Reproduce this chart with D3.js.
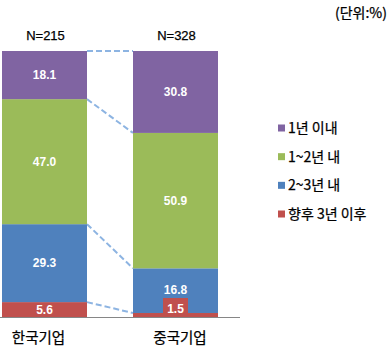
<!DOCTYPE html>
<html>
<head>
<meta charset="utf-8">
<script src="https://cdn.jsdelivr.net/npm/d3@7"></script>
<style>
  body { margin: 0; background: #fff; }
  svg { display: block; }
</style>
</head>
<body>
<div id="chart"></div>
<script>
// data
var companies = ["한국기업", "중국기업"];
var sampleSizes = ["N=215", "N=328"];
var periods = ["향후 3년 이후", "2~3년 내", "1~2년 내", "1년 이내"]; // bottom to top
var korea = [5.6, 29.3, 47.0, 18.1];
var china = [1.5, 16.8, 50.9, 30.8];
var colors = ["#C0504D", "#4F81BD", "#9BBB59", "#8064A2"];
var unitLabel = "(단위:%)";

var screen = {width: 389, height: 352};
var plot = {left: 2, right: 218, top: 51, bottom: 317, axisEnd: 240};

var svg = d3.select("#chart")
    .append("svg")
    .attr("width", screen.width)
    .attr("height", screen.height);

var xScale = d3.scaleBand()
    .domain(companies)
    .range([plot.left, plot.right])
    .paddingInner(46 / 131)
    .paddingOuter(0);

var yScale = d3.scaleLinear()
    .domain([0, 100])
    .range([plot.bottom, plot.top]);

// label positions for the category names
var labelScale = d3.scalePoint()
    .domain(companies)
    .range([38.5, 180]);

// stack the values
var series = [korea, china];
var stacked = series.map(function(vals, i) {
    var cum = 0;
    return vals.map(function(v, j) {
        var seg = {company: companies[i], period: periods[j], value: v, y0: cum, y1: cum + v, idx: j};
        cum += v;
        return seg;
    });
});

//connector lines between bars
var boundaries = d3.range(periods.length).map(function(j) {
    return {a: stacked[0][j].y1, b: stacked[1][j].y1};
});
svg.selectAll("line.conn")
    .data(boundaries)
    .enter()
    .append("line")
    .attr("class", "conn")
    .attr("x1", xScale(companies[0]) + xScale.bandwidth())
    .attr("x2", xScale(companies[1]))
    .attr("y1", function(d) { return yScale(d.a); })
    .attr("y2", function(d) { return yScale(d.b); })
    .attr("stroke", "#8DB4E2")
    .attr("stroke-width", 2)
    .attr("stroke-dasharray", "6,3");

// bars
var groups = svg.selectAll("g.bar")
    .data(stacked)
    .enter()
    .append("g")
    .attr("class", "bar");

groups.selectAll("rect")
    .data(function(d) { return d; })
    .enter()
    .append("rect")
    .attr("x", function(d) { return xScale(d.company); })
    .attr("width", xScale.bandwidth())
    .attr("y", function(d) { return yScale(d.y1); })
    .attr("height", function(d) { return yScale(d.y0) - yScale(d.y1); })
    .attr("fill", function(d) { return colors[d.idx]; });

// axis line
svg.append("line")
    .attr("x1", 0)
    .attr("x2", plot.axisEnd)
    .attr("y1", yScale(0) + 0.5)
    .attr("y2", yScale(0) + 0.5)
    .attr("stroke", "#868686")
    .attr("stroke-width", 1);

// value labels
var allSegs = stacked[0].concat(stacked[1]);
allSegs.forEach(function(d) {
    var cx = xScale(d.company) + xScale.bandwidth() / 2;
    var cy = (yScale(d.y0) + yScale(d.y1)) / 2;
    var small = (yScale(d.y0) - yScale(d.y1)) < 10;
    if (small) cy = yScale(d.y0) - 8;
    if (d.company == companies[1] && d.idx == 1) cy = yScale(d.y0) - 23;
    if (small) {
        svg.append("rect")
            .attr("x", cx - 12.5)
            .attr("y", cy - 11)
            .attr("width", 25)
            .attr("height", 19)
            .attr("fill", colors[d.idx]);
    }
    svg.append("text")
        .attr("x", cx)
        .attr("y", cy)
        .attr("dy", "0.36em")
        .attr("text-anchor", "middle")
        .attr("font-family", "Liberation Sans, Arial, sans-serif")
        .attr("font-weight", "bold")
        .attr("font-size", 12)
        .attr("fill", "#fff")
        .text(d3.format(".1f")(d.value));
});

// N labels
svg.selectAll("text.n")
    .data(companies)
    .enter()
    .append("text")
    .attr("class", "n")
    .attr("x", function(d) { return xScale(d) + xScale.bandwidth() / 2 + 1; })
    .attr("y", 35)
    .attr("dy", "0.36em")
    .attr("text-anchor", "middle")
    .attr("font-family", "Liberation Sans, Arial, sans-serif")
    .attr("font-size", 13)
    .attr("stroke", "#000")
    .attr("stroke-width", 0.25)
    .attr("fill", "#000")
    .text(function(d, i) { return sampleSizes[i]; });

// category labels
svg.selectAll("text.cat")
    .data(companies)
    .enter()
    .append("text")
    .attr("class", "cat")
    .attr("x", function(d) { return labelScale(d); })
    .attr("y", 338)
    .attr("dy", "0.36em")
    .attr("text-anchor", "middle")
    .attr("font-family", "Noto Sans CJK KR, sans-serif")
    .attr("font-size", 14.5)
    .attr("stroke", "#000")
    .attr("stroke-width", 0.25)
    .attr("fill", "#000")
    .text(function(d) { return d; });

// unit
svg.append("text")
    .attr("x", 387)
    .attr("y", 13)
    .attr("dy", "0.36em")
    .attr("text-anchor", "end")
    .attr("font-family", "Noto Sans CJK KR, sans-serif")
    .attr("font-size", 14)
    .attr("stroke", "#000")
    .attr("stroke-width", 0.25)
    .attr("fill", "#000")
    .text(unitLabel);

// legend (top to bottom)
var legendOrder = d3.range(periods.length).reverse();
var legendY = d3.scalePoint()
    .domain(legendOrder)
    .range([128, 214]);

var legend = svg.selectAll("g.legend")
    .data(legendOrder)
    .enter()
    .append("g")
    .attr("class", "legend")
    .attr("transform", function(d) { return "translate(278," + legendY(d) + ")"; });

legend.append("rect")
    .attr("x", 0)
    .attr("y", -3.5)
    .attr("width", 7)
    .attr("height", 7)
    .attr("fill", function(d) { return colors[d]; });

legend.append("text")
    .attr("x", 10)
    .attr("y", 0)
    .attr("dy", "0.36em")
    .attr("font-family", "Noto Sans CJK KR, sans-serif")
    .attr("font-size", 14)
    .attr("stroke", "#000")
    .attr("stroke-width", 0.25)
    .attr("fill", "#000")
    .text(function(d) { return periods[d]; });
</script>
</body>
</html>
